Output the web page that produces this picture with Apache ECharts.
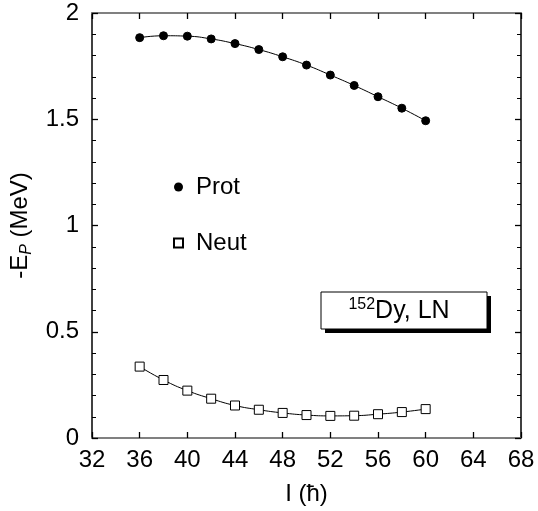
<!DOCTYPE html>
<html><head><meta charset="utf-8">
<script src="https://cdn.jsdelivr.net/npm/echarts@6/dist/echarts.min.js"></script>
<style>html,body{margin:0;padding:0;background:#fff}#c{width:538px;height:511px}</style>
</head><body><div id="c"></div>
<script>
const spins = [36,38,40,42,44,46,48,50,52,54,56,58,60];
const prot = [1.884,1.893,1.891,1.878,1.856,1.828,1.794,1.755,1.708,1.659,1.606,1.552,1.493];
const neut = [0.336,0.273,0.223,0.185,0.153,0.133,0.118,0.108,0.104,0.105,0.112,0.122,0.136];
const xTicks = [32,36,40,44,48,52,56,60,64,68];
const yTicks = [0,0.5,1,1.5,2];

const F = 'Liberation Sans, Arial, sans-serif';
const FS = 24;
const chart = echarts.init(document.getElementById('c'));
const axX = (show, pos) => ({
  type:'value', min:32, max:68, interval:4, position:pos,
  axisLine:{show:true, onZero:false, lineStyle:{color:'#808080', width:2}},
  axisTick:{show:true, inside:true, length:6, lineStyle:{color:'#000', width:1.3}},
  axisLabel:{show:show, color:'#000', fontSize:FS, fontFamily:F, margin:10},
  splitLine:{show:false}
});
const axY = (show, pos) => ({
  type:'value', min:0, max:2, interval:0.5, position:pos,
  axisLine:{show:true, onZero:false, lineStyle:{color:'#000', width:1.5}},
  axisTick:{show:true, inside:true, length:6, lineStyle:{color:'#000', width:1.3}},
  minorTick:{show:true, splitNumber:5, length:4, lineStyle:{color:'#000', width:1}},
  axisLabel:{show:show, color:'#000', fontSize:FS, fontFamily:F, margin:13,
    formatter: v => String(v)},
  splitLine:{show:false}
});
const xb = axX(true,'bottom');
xb.name = 'I (ħ)'; xb.nameLocation='middle'; xb.nameGap=44;
xb.nameTextStyle = {color:'#000', fontSize:FS, fontFamily:F};
const yl = axY(true,'left');
yl.name = '{n|-E}{s|P}{n| (MeV)}'; yl.nameLocation='middle'; yl.nameGap=54;
yl.nameTextStyle = {color:'#000', fontSize:FS, fontFamily:F, rich:{
  n:{fontSize:FS, fontFamily:F, color:'#000'},
  s:{fontSize:16, fontFamily:F, fontStyle:'italic', color:'#000', verticalAlign:'bottom', padding:[12,0,0,0]}
}};

chart.setOption({
  animation:false,
  backgroundColor:'#fff',
  grid:{left:92, top:13, right:17, bottom:67},
  xAxis:[xb, axX(false,'top')],
  yAxis:[yl, axY(false,'right')],
  legend:{
    orient:'vertical', left:168, top:170, itemGap:32, itemWidth:9, itemHeight:9,
    textStyle:{color:'#000', fontSize:FS, fontFamily:F, padding:[0,0,0,8]},
    data:[{name:'Prot', icon:'circle'}, {name:'Neut', icon:'rect'}]
  },
  series:[
    {name:'Prot', type:'line', smooth:true, data: spins.map((s,i)=>[s,prot[i]]),
     symbol:'circle', symbolSize:8, showAllSymbol:true,
     lineStyle:{color:'#000', width:1}, itemStyle:{color:'#000', borderColor:'#000'}},
    {name:'Neut', type:'line', smooth:true, data: spins.map((s,i)=>[s,neut[i]]),
     symbol:'rect', symbolSize:9, showAllSymbol:true,
     lineStyle:{color:'#000', width:1}, itemStyle:{color:'#fff', borderColor:'#000', borderWidth:1}}
  ],
  graphic:[
    {type:'rect', shape:{x:325, y:296, width:166, height:37}, style:{fill:'#000'}},
    {type:'rect', shape:{x:321, y:292, width:166, height:37}, style:{fill:'#fff', stroke:'#000', lineWidth:1}},
    {type:'text', x:399, y:311, style:{
      text:'{sup|152}{m|Dy, LN}', align:'center', verticalAlign:'middle',
      rich:{ sup:{fontSize:16, fontFamily:F, fill:'#000', verticalAlign:'top', padding:[0,0,12,0]},
             m:{fontSize:25, fontFamily:F, fill:'#000'} }
    }}
  ]
});
</script></body></html>
